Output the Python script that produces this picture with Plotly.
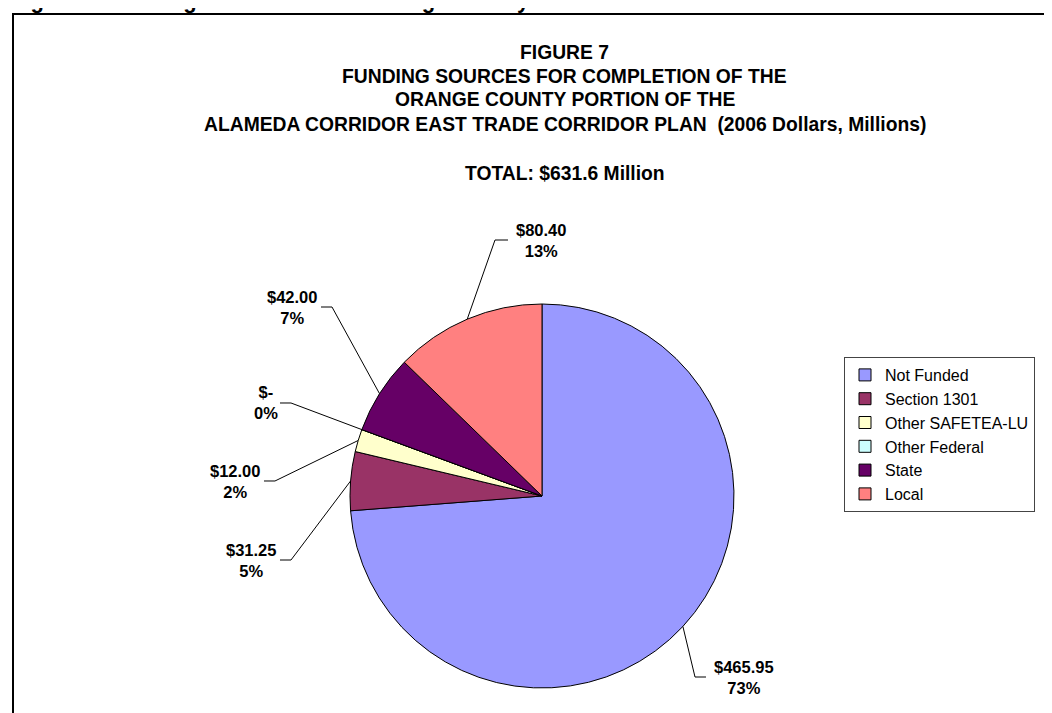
import math
import plotly.graph_objects as go

W, H = 1052, 713

# ---------------- data ----------------
categories = ["Not Funded", "Section 1301", "Other SAFETEA-LU", "Other Federal", "State", "Local"]
values = [465.95, 31.25, 12.00, 0.00, 42.00, 80.40]
percent_labels = ["73%", "5%", "2%", "0%", "7%", "13%"]
colors = ["#9999FF", "#993366", "#FFFFCC", "#CCFFFF", "#660066", "#FF8080"]
title_lines = [
    "FIGURE 7",
    "FUNDING SOURCES FOR COMPLETION OF THE",
    "ORANGE COUNTY PORTION OF THE",
    "ALAMEDA CORRIDOR EAST TRADE CORRIDOR PLAN  (2006 Dollars, Millions)",
]
subtitle = "TOTAL: $631.6 Million"
caption = "Figure 7: Funding Sources for the Orange County"

# ---------------- layout (pixels) ----------------
PIE_CX, PIE_CY, PIE_R = 534, 488, 192
TITLE_X = 556.5
TITLE_Y = [44.5, 68, 91.5, 116]
SUBTITLE_Y = 165
# label centre x, y, elbow x, leader end x
label_pos = [
    (736, 669, 687, 698),
    (243, 552, 283, 272),
    (227, 473, 267, 256),
    (258, 395, 283, 272),
    (283.5, 299, 324, 313),
    (533, 232, 487, 500),
]
FONT = "Arial, Liberation Sans, sans-serif"


def fx(px):
    return px / W


def fy(py):
    return 1 - py / H


fig = go.Figure()
fig.add_trace(go.Pie(
    labels=categories,
    values=values,
    marker=dict(colors=colors, line=dict(color="black", width=1)),
    sort=False,
    direction="clockwise",
    rotation=0,
    textinfo="none",
    hoverinfo="label+value+percent",
    domain=dict(x=[fx(PIE_CX - PIE_R), fx(PIE_CX + PIE_R)],
                y=[fy(PIE_CY + PIE_R), fy(PIE_CY - PIE_R)]),
    showlegend=True,
))

annotations = []
shapes = []

# titles
for t, y in zip(title_lines, TITLE_Y):
    annotations.append(dict(text=t, x=fx(TITLE_X), y=fy(y), xref="paper", yref="paper",
                            xanchor="center", yanchor="middle", showarrow=False,
                            font=dict(family=FONT, size=19.3, color="black", weight="bold")))
annotations.append(dict(text=subtitle, x=fx(TITLE_X), y=fy(SUBTITLE_Y), xref="paper", yref="paper",
                        xanchor="center", yanchor="middle", showarrow=False,
                        font=dict(family=FONT, size=19.3, color="black", weight="bold")))
# caption of the page, cut off at the very top edge (only descenders visible)
annotations.append(dict(text=caption, x=fx(1), y=fy(7), xref="paper", yref="paper",
                        xanchor="left", yanchor="bottom", showarrow=False,
                        font=dict(family=FONT, size=22, color="black", weight="bold")))

# data labels + leader lines
total = sum(values)
cum = 0.0
for v, pct, (lx, ly, ex, endx) in zip(values, percent_labels, label_pos):
    mid = (cum + v / 2) / total
    cum += v
    th = 2 * math.pi * mid
    tx = PIE_CX + PIE_R * math.sin(th)
    ty = PIE_CY - PIE_R * math.cos(th)
    vtxt = "$%.2f" % v if v > 0 else "$-"
    annotations.append(dict(text=vtxt + "<br>" + pct, x=fx(lx), y=fy(ly), xref="paper", yref="paper",
                            xanchor="center", yanchor="middle", showarrow=False, align="center",
                            font=dict(family=FONT, size=16.5, color="black", weight="bold")))
    path = "M %f,%f L %f,%f L %f,%f" % (fx(tx), fy(ty), fx(ex), fy(ly), fx(endx), fy(ly))
    shapes.append(dict(type="path", path=path, xref="paper", yref="paper",
                       line=dict(color="black", width=1)))

# outer chart border
shapes.append(dict(type="rect", xref="paper", yref="paper", x0=fx(5), y0=fy(6), x1=fx(1062), y1=fy(725),
                   line=dict(color="black", width=2), fillcolor="rgba(0,0,0,0)"))

fig.update_layout(
    width=W, height=H,
    margin=dict(l=0, r=0, t=0, b=0),
    paper_bgcolor="white", plot_bgcolor="white",
    annotations=annotations,
    shapes=shapes,
    legend=dict(x=fx(836), y=fy(349), xanchor="left", yanchor="top",
                bordercolor="#444444", borderwidth=1, bgcolor="white",
                font=dict(family=FONT, size=16, color="black"),
                itemwidth=30, traceorder="normal"),
)

fig.write_html("out.html")
